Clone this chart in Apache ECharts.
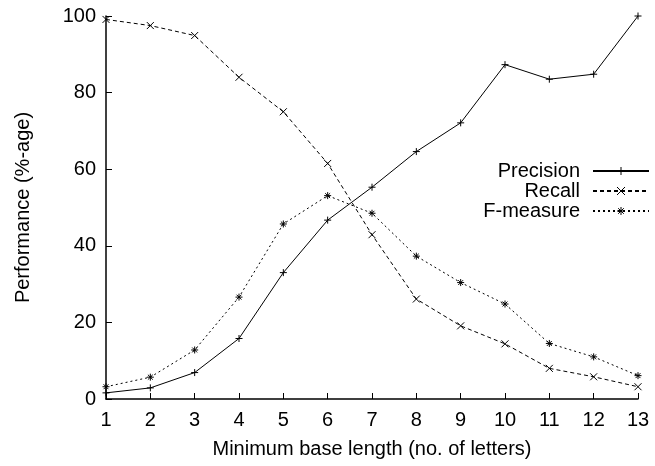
<!DOCTYPE html>
<html>
<head>
<meta charset="utf-8">
<script src="https://cdn.jsdelivr.net/npm/echarts@6/dist/echarts.min.js"></script>
<style>
  html, body { margin: 0; padding: 0; background: #fff; }
  #chart { width: 655px; height: 466px; }
</style>
</head>
<body>
<div id="chart"></div>
<script>
// minimum base length (x values)
const baseLength = [1, 2, 3, 4, 5, 6, 7, 8, 9, 10, 11, 12, 13];
const precision = [1.6, 2.9, 6.9, 15.8, 33.0, 46.7, 55.3, 64.6, 72.1, 87.3, 83.5, 84.8, 100];
const recall = [99.1, 97.5, 94.9, 84.0, 75.0, 61.5, 42.9, 26.1, 19.1, 14.4, 8.0, 5.8, 3.2];
const fmeasure = [3.2, 5.7, 12.8, 26.6, 45.7, 53.1, 48.5, 37.3, 30.4, 24.8, 14.5, 11.0, 6.1];

const font = "'Liberation Sans', Arial, Helvetica, sans-serif";

// point markers, drawn as strokes
const plusSym = 'path://M0,5L10,5M5,0L5,10';
const crossSym = 'path://M0,0L10,10M0,10L10,0';
const starSym = 'path://M0,5L10,5M5,0L5,10M1.5,1.5L8.5,8.5M1.5,8.5L8.5,1.5';

function pairs(ys) {
  return baseLength.map((x, i) => [x, ys[i]]);
}

function mkSeries(name, ys, sym, dash) {
  return {
    name: name,
    type: 'line',
    data: pairs(ys),
    symbol: sym,
    symbolSize: 7,
    showSymbol: true,
    lineStyle: { color: '#000', width: 1, type: dash },
    itemStyle: { color: 'rgba(0,0,0,0)', borderColor: '#000', borderWidth: 1 },
    emphasis: { disabled: true },
    animation: false
  };
}

const chart = echarts.init(document.getElementById('chart'));
chart.setOption({
  animation: false,
  textStyle: { fontFamily: font, color: '#000' },
  grid: { left: 106, right: 17, top: 16, bottom: 67, containLabel: false },
  legend: {
    orient: 'vertical',
    right: 0,
    top: 156,
    align: 'right',
    itemWidth: 56,
    itemHeight: 10,
    itemGap: 0,
    itemStyle: { color: 'rgba(0,0,0,0)', borderColor: '#000', borderWidth: 1 },
    textStyle: {
      fontFamily: font, fontSize: 20, lineHeight: 20, color: '#000',
      width: 120, align: 'right', padding: [0, 8, 0, 0]
    },
    data: ['Precision', 'Recall', 'F-measure']
  },
  xAxis: {
    type: 'value',
    min: 1,
    max: 13,
    interval: 1,
    name: 'Minimum base length (no. of letters)',
    nameLocation: 'middle',
    nameGap: 40,
    nameTextStyle: { fontFamily: font, fontSize: 20, color: '#000' },
    axisLine: { lineStyle: { color: '#000', width: 1.5 } },
    axisTick: { inside: true, length: 6, lineStyle: { color: '#000' } },
    axisLabel: { fontFamily: font, fontSize: 20, color: '#000', margin: 11 },
    splitLine: { show: false }
  },
  yAxis: {
    type: 'value',
    min: 0,
    max: 100,
    interval: 20,
    name: 'Performance (%-age)',
    nameLocation: 'middle',
    nameGap: 73,
    nameTextStyle: { fontFamily: font, fontSize: 20, color: '#000' },
    axisLine: { show: true, lineStyle: { color: '#000', width: 1.5 } },
    axisTick: { show: true, inside: true, length: 6, lineStyle: { color: '#000' } },
    axisLabel: { fontFamily: font, fontSize: 20, color: '#000', margin: 10 },
    splitLine: { show: false }
  },
  series: [
    mkSeries('Precision', precision, plusSym, 'solid'),
    mkSeries('Recall', recall, crossSym, [4, 3]),
    mkSeries('F-measure', fmeasure, starSym, [2, 3])
  ]
});
</script>
</body>
</html>
